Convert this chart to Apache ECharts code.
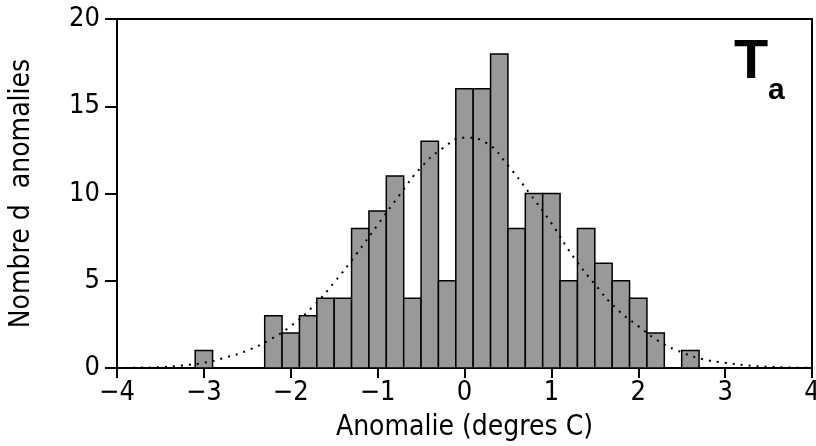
<!doctype html>
<html lang="fr">
<head>
    <meta charset="UTF-8">
    <title>Histogramme des anomalies - Ta</title>
    <script src="https://cdn.jsdelivr.net/npm/echarts@6/dist/echarts.min.js"></script>
    <style>
        html, body { margin: 0; padding: 0; background: #fff; }
        #chart { width: 816px; height: 446px; }
    </style>
</head>
<body>
<div id="chart"></div>
<script>
    // centres des classes (largeur 0.2 degre) et effectifs
    var binCenters = [-3.0, -2.2, -2.0, -1.8, -1.6, -1.4, -1.2, -1.0, -0.8, -0.6, -0.4, -0.2,
        0.0, 0.2, 0.4, 0.6, 0.8, 1.0, 1.2, 1.4, 1.6, 1.8, 2.0, 2.2, 2.6];
    var binCounts = [1, 3, 2, 3, 4, 4, 8, 9, 11, 4, 13, 5,
        16, 16, 18, 8, 10, 10, 5, 8, 6, 5, 4, 2, 1];
    var binWidth = 0.2;

    // courbe normale ajustee
    var curveX = [-4, -3.75, -3.5, -3.25, -3, -2.75, -2.5, -2.25, -2, -1.75, -1.5, -1.25, -1, -0.75, -0.5, -0.25,
        0, 0.25, 0.5, 0.75, 1, 1.25, 1.5, 1.75, 2, 2.25, 2.5, 2.75, 3, 3.25, 3.5, 3.75, 4];
    var curveY = [0.0, 0.02, 0.05, 0.15, 0.3, 0.6, 1.0, 1.6, 2.4, 3.5, 4.9, 6.5, 8.2, 9.9, 11.5, 12.6,
        13.2, 12.9, 11.6, 10.0, 8.3, 6.4, 4.8, 3.4, 2.4, 1.5, 0.9, 0.5, 0.3, 0.15, 0.07, 0.03, 0.01];

    var xTicks = [-4, -3, -2, -1, 0, 1, 2, 3, 4];
    var yTicks = [0, 5, 10, 15, 20];

    var font = '"Liberation Sans Narrow", "DejaVu Sans Condensed", sans-serif';

    var chart = echarts.init(document.getElementById('chart'), null, {renderer: 'canvas'});

    var bars = [];
    for (var i = 0; i < binCenters.length; i++) {
        bars.push([binCenters[i], binCounts[i]]);
    }
    var curve = [];
    for (var j = 0; j < curveX.length; j++) {
        curve.push([curveX[j], curveY[j]]);
    }

    chart.setOption({
        animation: false,
        backgroundColor: '#fff',
        grid: {
            left: 117, right: 4, top: 19, bottom: 78,
            outerBoundsMode: 'none', containLabel: false,
            show: true, borderColor: '#000', borderWidth: 2
        },
        xAxis: {
            type: 'value',
            min: xTicks[0], max: xTicks[xTicks.length - 1], interval: 1,
            name: 'Anomalie (degres C)',
            nameLocation: 'middle', nameGap: 46,
            nameTextStyle: {color: '#000', fontFamily: font, fontSize: 28},
            axisLine: {show: true, onZero: false, lineStyle: {color: '#000', width: 2}},
            axisTick: {show: true, inside: false, length: 10, lineStyle: {color: '#000', width: 2}},
            axisLabel: {
                color: '#000', fontFamily: font, fontSize: 27, margin: 11,
                formatter: function (v) { return String(v).replace('-', '\u2212'); }
            },
            splitLine: {show: false}
        },
        yAxis: {
            type: 'value',
            min: yTicks[0], max: yTicks[yTicks.length - 1], interval: 5,
            name: 'Nombre d  anomalies',
            nameLocation: 'middle', nameGap: 81, nameRotate: 90,
            nameTextStyle: {color: '#000', fontFamily: font, fontSize: 28},
            axisLine: {show: true, onZero: false, lineStyle: {color: '#000', width: 2}},
            axisTick: {show: true, inside: false, length: 12, lineStyle: {color: '#000', width: 2}},
            axisLabel: {color: '#000', fontFamily: font, fontSize: 27, margin: 17},
            splitLine: {show: false}
        },
        graphic: [
            {type: 'text', left: 734, top: 35,
                style: {text: 'T', fill: '#000', font: 'bold 56px "Liberation Sans", Arial, sans-serif'}},
            {type: 'text', left: 768, top: 76,
                style: {text: 'a', fill: '#000', font: 'bold 30px "Liberation Sans", Arial, sans-serif'}}
        ],
        series: [
            {
                type: 'custom',
                data: bars,
                z: 2,
                renderItem: function (params, api) {
                    var c = api.value(0);
                    var n = api.value(1);
                    var p0 = api.coord([c - binWidth / 2, n]);
                    var p1 = api.coord([c + binWidth / 2, 0]);
                    return {
                        type: 'rect',
                        shape: {x: p0[0], y: p0[1], width: p1[0] - p0[0], height: p1[1] - p0[1]},
                        style: {fill: '#999999', stroke: '#000', lineWidth: 1.5}
                    };
                }
            },
            {
                type: 'line',
                data: curve,
                smooth: true,
                symbol: 'none',
                z: 3,
                lineStyle: {color: '#000', width: 2, type: [2, 6]}
            }
        ]
    });
</script>
</body>
</html>
